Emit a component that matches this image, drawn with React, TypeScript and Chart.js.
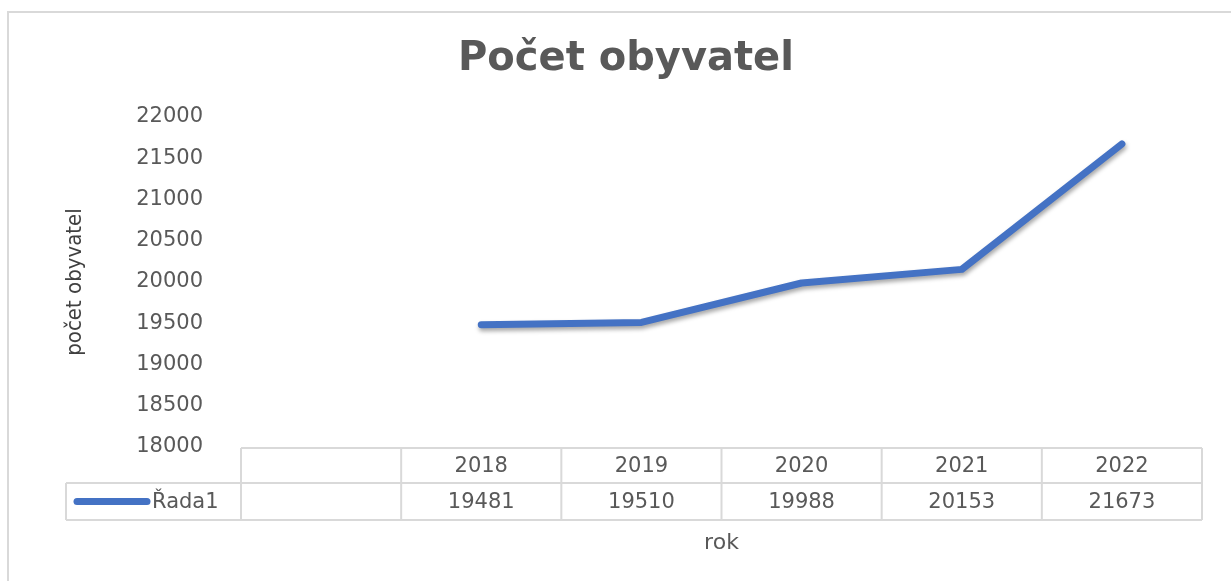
import React, { useEffect, useRef } from 'react';
import { Chart, registerables } from 'chart.js';

Chart.register(...registerables);

// ---- data ----
const categories: string[] = ['', '2018', '2019', '2020', '2021', '2022'];
const populationValues: (number | null)[] = [null, 19481, 19510, 19988, 20153, 21673];
const seriesName = 'Řada1';
const chartTitle = 'Počet obyvatel';
const yAxisTitle = 'počet obyvatel';
const xAxisTitle = 'rok';
const yMin = 18000;
const yMax = 22000;
const yStep = 500;

const TEXT = '#595959';
const GRID = '#D9D9D9';
const BLUE = '#4472C4';
const NUM_FONT = '21px "DejaVu Sans", sans-serif';

const decorPlugin = {
  id: 'decor',
  beforeDatasetsDraw(chart: any) {
    const ctx = chart.ctx;
    ctx.save();
    ctx.shadowColor = 'rgba(0,0,0,0.35)';
    ctx.shadowBlur = 4;
    ctx.shadowOffsetX = 1;
    ctx.shadowOffsetY = 3;
  },
  afterDatasetsDraw(chart: any) {
    chart.ctx.restore();
  },
  afterDraw(chart: any) {
    const ctx = chart.ctx;
    const xs = chart.scales.x;
    const area = chart.chartArea;
    const n = categories.length;
    const colW = (area.right - area.left) / n;
    const left = area.left;
    const right = area.right;
    const y0 = area.bottom + 1;
    const y1 = y0 + 35;
    const y2 = y1 + 37;
    const legendLeft = 66;

    ctx.save();
    // outer border
    ctx.strokeStyle = GRID;
    ctx.lineWidth = 2;
    ctx.beginPath();
    ctx.moveTo(8, chart.height);
    ctx.lineTo(8, 12);
    ctx.lineTo(chart.width, 12);
    ctx.stroke();

    // title
    ctx.fillStyle = TEXT;
    ctx.font = 'bold 40px "DejaVu Sans", sans-serif';
    ctx.textAlign = 'center';
    ctx.textBaseline = 'middle';
    ctx.fillText(chartTitle, 626, 60);

    // table grid
    ctx.strokeStyle = GRID;
    ctx.lineWidth = 2;
    ctx.beginPath();
    ctx.moveTo(left, y0); ctx.lineTo(right, y0);
    ctx.moveTo(legendLeft, y1); ctx.lineTo(right, y1);
    ctx.moveTo(legendLeft, y2); ctx.lineTo(right, y2);
    ctx.moveTo(legendLeft, y1); ctx.lineTo(legendLeft, y2);
    for (let k = 0; k <= n; k++) {
      const x = left + k * colW;
      ctx.moveTo(x, y0); ctx.lineTo(x, y2);
    }
    ctx.stroke();

    // table text
    ctx.fillStyle = TEXT;
    ctx.font = NUM_FONT;
    ctx.textAlign = 'center';
    ctx.textBaseline = 'middle';
    for (let i = 0; i < n; i++) {
      const cx = xs.getPixelForValue(i);
      ctx.fillText(categories[i], cx, (y0 + y1) / 2 + 1);
      const v = populationValues[i];
      ctx.fillText(v == null ? '' : String(v), cx, (y1 + y2) / 2 + 1);
    }

    // legend key
    ctx.strokeStyle = BLUE;
    ctx.lineWidth = 7;
    ctx.lineCap = 'round';
    ctx.beginPath();
    ctx.moveTo(77, (y1 + y2) / 2);
    ctx.lineTo(147, (y1 + y2) / 2);
    ctx.stroke();
    ctx.textAlign = 'left';
    ctx.fillText(seriesName, 152, (y1 + y2) / 2 + 1);

    // x axis title
    ctx.font = '22px "DejaVu Sans", sans-serif';
    ctx.textAlign = 'center';
    ctx.fillText(xAxisTitle, (left + right) / 2, 543);
    ctx.restore();
  },
};

export default function App() {
  const ref = useRef<HTMLCanvasElement>(null);
  useEffect(() => {
    if (!ref.current) return;
    const chart = new Chart(ref.current, {
      type: 'line',
      data: {
        labels: categories,
        datasets: [
          {
            label: seriesName,
            data: populationValues,
            borderColor: BLUE,
            backgroundColor: BLUE,
            borderWidth: 7,
            pointRadius: 0,
            borderCapStyle: 'round',
            borderJoinStyle: 'round',
            tension: 0,
          },
        ],
      },
      options: {
        animation: false,
        responsive: true,
        maintainAspectRatio: false,
        layout: { padding: { left: 0, right: 29, top: 117, bottom: 134 } },
        plugins: {
          legend: { display: false },
          title: { display: false },
          tooltip: { enabled: false },
        },
        scales: {
          x: { type: 'category', offset: true, display: false },
          y: {
            min: yMin,
            max: yMax,
            ticks: {
              stepSize: yStep,
              padding: 30,
              color: TEXT,
              font: { family: '"DejaVu Sans", sans-serif', size: 21 },
              callback: (v: any) => String(v),
            },
            grid: { display: false },
            border: { display: false },
            title: {
              display: true,
              text: yAxisTitle,
              color: '#404040',
              font: { family: '"Liberation Sans Narrow", "DejaVu Sans Condensed", "Liberation Sans", sans-serif', size: 22 },
              padding: { top: 62, bottom: 0 },
            },
            afterFit: (s: any) => {
              s.width = 241;
            },
          },
        },
      },
      plugins: [decorPlugin],
    } as any);
    return () => chart.destroy();
  }, []);
  return (
    <div style={{ position: 'fixed', left: 0, top: 0, width: 1231, height: 581, background: '#fff' }}>
      <canvas ref={ref} />
    </div>
  );
}
